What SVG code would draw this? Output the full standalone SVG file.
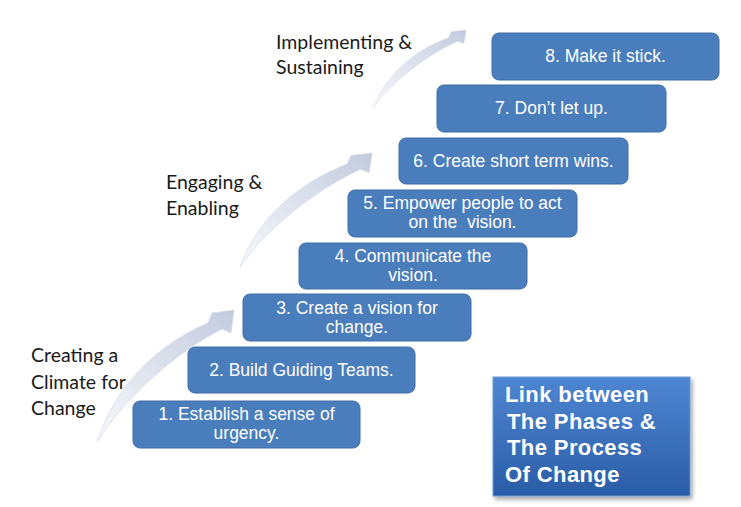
<svg xmlns="http://www.w3.org/2000/svg" xmlns:xlink="http://www.w3.org/1999/xlink" width="741" height="507" viewBox="0 0 741 507">
<style>
.step rect{fill:#4a7dbb;stroke:#3f6ea8;stroke-width:1}
.step text{font-family:"Liberation Sans",Arial,sans-serif;font-size:17.5px;fill:#ffffff;text-anchor:middle}
.phase text{font-family:Lato,"Open Sans",sans-serif;font-size:19.5px;fill:#1a1a1a}
.title text{font-family:"Liberation Sans",Arial,sans-serif;font-size:22px;font-weight:bold;fill:#ffffff;letter-spacing:0.4px}
.arrow{fill:url(#arrowGrad);stroke:#cfd6e3;stroke-width:0.6}
</style>
<defs>
<linearGradient id="arrowGrad" x1="0" y1="1" x2="1" y2="0">
<stop offset="0" stop-color="#f6f8fb"/>
<stop offset="0.45" stop-color="#dfe4ee"/>
<stop offset="1" stop-color="#c2cbdf"/>
</linearGradient>
<linearGradient id="titleGrad" x1="0" y1="0" x2="0" y2="1">
<stop offset="0" stop-color="#4f86d2"/>
<stop offset="1" stop-color="#2a5ca6"/>
</linearGradient>
<filter id="shadow" x="-10%" y="-10%" width="125%" height="125%">
<feDropShadow dx="2" dy="3" stdDeviation="2" flood-color="#000" flood-opacity="0.35"/>
</filter>
<path id="curveArrow" d="M97,442 C114,389 154,346 208,323 L212,313 L234,310 L231,333 L222,329 C177,352 128,394 97,442 Z"/>
</defs>
<rect width="741" height="507" fill="#ffffff"/>

<g id="connectors">
<use xlink:href="#curveArrow" class="arrow"/>
<use xlink:href="#curveArrow" class="arrow" transform="translate(240,267) scale(0.964,0.864) translate(-97,-442)"/>
<use xlink:href="#curveArrow" class="arrow" transform="translate(373,108) scale(0.679,0.591) translate(-97,-442)"/>
</g>

<g id="phase-creating" class="phase">
<text x="31" y="362">Creating a</text>
<text x="31" y="389">Climate for</text>
<text x="31" y="415">Change</text>
</g>
<g id="phase-engaging" class="phase">
<text x="166" y="189">Engaging &amp;</text>
<text x="166" y="215">Enabling</text>
</g>
<g id="phase-implementing" class="phase">
<text x="276" y="49">Implementing &amp;</text>
<text x="276" y="74">Sustaining</text>
</g>

<g id="step1" class="step">
<rect x="133" y="401" width="227" height="47" rx="7"/>
<text x="246.5" y="420">1. Establish a sense of</text>
<text x="246.5" y="439">urgency.</text>
</g>
<g id="step2" class="step">
<rect x="188" y="347" width="227" height="46" rx="7"/>
<text x="301.5" y="376">2. Build Guiding Teams.</text>
</g>
<g id="step3" class="step">
<rect x="243" y="294" width="228" height="47" rx="7"/>
<text x="357" y="314">3. Create a vision for</text>
<text x="357" y="333">change.</text>
</g>
<g id="step4" class="step">
<rect x="299" y="243" width="228" height="46" rx="7"/>
<text x="413" y="262">4. Communicate the</text>
<text x="413" y="281">vision.</text>
</g>
<g id="step5" class="step">
<rect x="348" y="190" width="229" height="47" rx="7"/>
<text x="462.5" y="209">5. Empower people to act</text>
<text x="462.5" y="228" xml:space="preserve">on the  vision.</text>
</g>
<g id="step6" class="step">
<rect x="399" y="138" width="229" height="46" rx="7"/>
<text x="513.5" y="167">6. Create short term wins.</text>
</g>
<g id="step7" class="step">
<rect x="437" y="85" width="229" height="47" rx="7"/>
<text x="551.5" y="114">7. Don’t let up.</text>
</g>
<g id="step8" class="step">
<rect x="492" y="33" width="227" height="47" rx="7"/>
<text x="605.5" y="62">8. Make it stick.</text>
</g>

<g id="title" class="title">
<rect x="493" y="377" width="197" height="119" fill="url(#titleGrad)" stroke="#6f9bd6" stroke-width="1" filter="url(#shadow)"/>
<text x="505" y="402">Link between</text>
<text x="507" y="429">The Phases &amp;</text>
<text x="507" y="455">The Process</text>
<text x="505" y="482">Of Change</text>
</g>
</svg>
